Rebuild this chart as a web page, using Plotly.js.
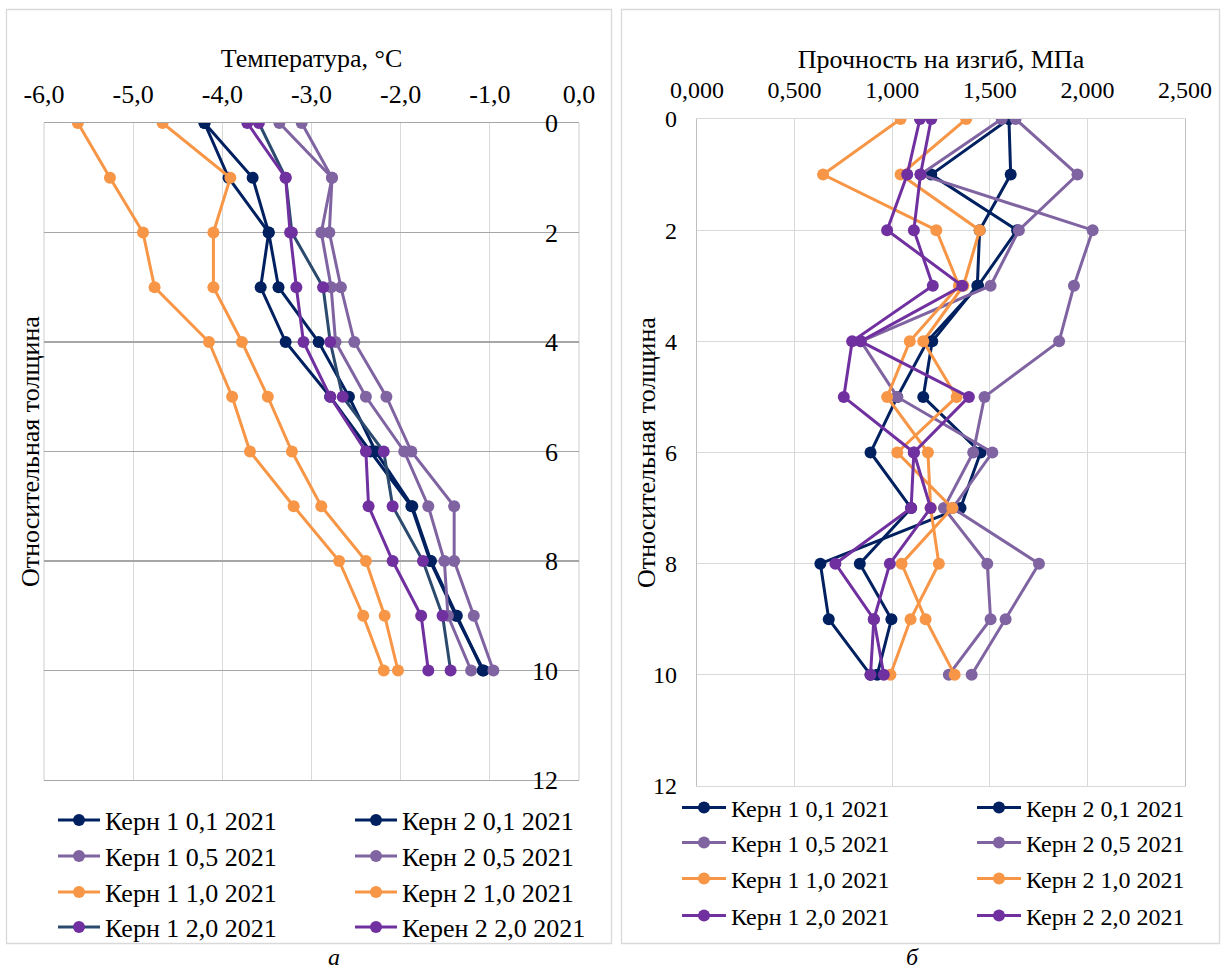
<!DOCTYPE html>
<html>
<head>
<meta charset="utf-8">
<script src="https://cdn.plot.ly/plotly-3.0.1.min.js"></script>
<style>html,body{margin:0;padding:0;background:#fff;}#chart{width:1225px;height:972px;}</style>
</head>
<body>
<div id="chart"></div>
<script>
// ---- data ----
const depth = [0, 1, 2, 3, 4, 5, 6, 7, 8, 9, 10];

const namesLeft  = ["Керн 1 0,1 2021", "Керн 2 0,1 2021", "Керн 1 0,5 2021", "Керн 2 0,5 2021",
                    "Керн 1 1,0 2021", "Керн 2 1,0 2021", "Керн 1 2,0 2021", "Керен 2 2,0 2021"];
const namesRight = ["Керн 1 0,1 2021", "Керн 2 0,1 2021", "Керн 1 0,5 2021", "Керн 2 0,5 2021",
                    "Керн 1 1,0 2021", "Керн 2 1,0 2021", "Керн 1 2,0 2021", "Керн 2 2,0 2021"];

// Temperature, °C (chart а)
const tK1_01 = [-4.20, -3.93, -3.48, -3.57, -3.29, -2.79, -2.34, -1.88, -1.67, -1.38, -1.07];
const tK2_01 = [-4.20, -3.66, -3.48, -3.37, -2.92, -2.58, -2.28, -1.87, -1.66, -1.37, -1.08];
const tK1_05 = [-3.36, -2.77, -2.89, -2.78, -2.73, -2.39, -1.96, -1.69, -1.51, -1.47, -1.21];
const tK2_05 = [-3.11, -2.77, -2.80, -2.67, -2.52, -2.16, -1.88, -1.40, -1.40, -1.18, -0.96];
const tK1_10 = [-5.62, -5.26, -4.89, -4.76, -4.15, -3.89, -3.69, -3.20, -2.69, -2.42, -2.19];
const tK2_10 = [-4.67, -3.91, -4.10, -4.10, -3.78, -3.49, -3.22, -2.89, -2.39, -2.18, -2.03];
const tK1_20 = [-3.59, -3.29, -3.22, -2.87, -2.79, -2.65, -2.19, -2.09, -1.75, -1.53, -1.44];
const tK2_20 = [-3.72, -3.29, -3.24, -3.17, -3.09, -2.79, -2.39, -2.36, -2.09, -1.77, -1.69];

// Flexural strength, MPa (chart б)
const sK1_01 = [1.598, 1.607, 1.448, 1.436, 1.205, 1.159, 1.453, 1.350, 0.632, 0.675, 0.889];
const sK2_01 = [1.598, 1.200, 1.640, 1.440, 1.180, 1.026, 0.889, 1.097, 0.834, 0.996, 0.923];
const sK1_05 = [1.561, 1.145, 2.027, 1.931, 1.855, 1.473, 1.415, 1.265, 1.487, 1.504, 1.290];
const sK2_05 = [1.632, 1.949, 1.649, 1.504, 0.840, 1.026, 1.513, 1.310, 1.752, 1.581, 1.407];
const sK1_10 = [1.043, 0.646, 1.226, 1.342, 1.090, 0.974, 1.183, 1.197, 1.239, 1.094, 0.991];
const sK2_10 = [1.379, 1.043, 1.448, 1.365, 1.159, 1.330, 1.026, 1.308, 1.048, 1.171, 1.320];
const sK1_20 = [1.142, 1.077, 0.974, 1.359, 0.838, 1.393, 1.111, 1.097, 0.709, 0.906, 0.889];
const sK2_20 = [1.200, 1.145, 1.111, 1.208, 0.795, 0.752, 1.111, 1.197, 0.988, 0.906, 0.957];

// tick labels
const tempTicks = [-6, -5, -4, -3, -2, -1, 0];
const tempTickText = ["-6,0", "-5,0", "-4,0", "-3,0", "-2,0", "-1,0", "0,0"];
const strTicks = [0, 0.5, 1, 1.5, 2, 2.5];
const strTickText = ["0,000", "0,500", "1,000", "1,500", "2,000", "2,500"];
const depthTicks = [0, 2, 4, 6, 8, 10, 12];
const depthTickText = ["0", "2", "4", "6", "8", "10", "12"];

const xTitleLeft = "Температура, °C";
const xTitleRight = "Прочность на изгиб, МПа";
const yTitle = "Относительная толщина";

// ---- styling ----
const NAVY = '#002060', LILAC = '#8064A2', ORANGE = '#F79646', PURPLE = '#7030A0', SLATE = '#2C4A6E';
const FONT = 'Liberation Serif, Times New Roman, serif';
const W = 1225, H = 972;
const fx = p => p / W;
const fy = p => 1 - p / H;

const leftSeries = [tK1_01, tK2_01, tK1_05, tK2_05, tK1_10, tK2_10, tK1_20, tK2_20];
const rightSeries = [sK1_01, sK2_01, sK1_05, sK2_05, sK1_10, sK2_10, sK1_20, sK2_20];
const leftLineColors  = [NAVY, NAVY, LILAC, LILAC, ORANGE, ORANGE, SLATE, PURPLE];
const rightLineColors = [NAVY, NAVY, LILAC, LILAC, ORANGE, ORANGE, PURPLE, PURPLE];
const markerColors    = [NAVY, NAVY, LILAC, LILAC, ORANGE, ORANGE, PURPLE, PURPLE];

const legendRowsLeft = [820, 856, 892, 927];
const legendRowsRight = [808, 843, 879, 916];

const data = [];
const legends = {};
function legId(k) { return k === 0 ? 'legend' : 'legend' + (k + 1); }

leftSeries.forEach((s, i) => {
  const id = legId(i);
  data.push({
    type: 'scatter', mode: 'lines+markers', x: s, y: depth, name: namesLeft[i],
    xaxis: 'x', yaxis: 'y', legend: id,
    line: {color: leftLineColors[i], width: 3},
    marker: {color: markerColors[i], size: 12}
  });
  legends[id] = {
    x: fx(i % 2 ? 350 : 53), y: fy(legendRowsLeft[Math.floor(i / 2)]),
    xanchor: 'left', yanchor: 'middle', orientation: 'v', itemwidth: 42,
    bgcolor: 'rgba(0,0,0,0)', font: {family: FONT, size: 26, color: '#000'}
  };
});
rightSeries.forEach((s, i) => {
  const id = legId(i + 8);
  data.push({
    type: 'scatter', mode: 'lines+markers', x: s, y: depth, name: namesRight[i],
    xaxis: 'x2', yaxis: 'y2', legend: id,
    line: {color: rightLineColors[i], width: 3},
    marker: {color: markerColors[i], size: 12}
  });
  legends[id] = {
    x: fx(i % 2 ? 972 : 677), y: fy(legendRowsRight[Math.floor(i / 2)]),
    xanchor: 'left', yanchor: 'middle', orientation: 'v', itemwidth: 44,
    bgcolor: 'rgba(0,0,0,0)', font: {family: FONT, size: 24, color: '#000'}
  };
});

const PL = {x0: 44, x1: 579, y0: 123, y1: 780};   // left plot box, px
const PR = {x0: 697, x1: 1185, y0: 119, y1: 786}; // right plot box, px

const layout = Object.assign({
  width: W, height: H,
  margin: {l: 0, r: 0, t: 0, b: 0},
  paper_bgcolor: '#fff', plot_bgcolor: '#fff',
  font: {family: FONT, color: '#000'},
  showlegend: true,
  xaxis: {
    domain: [fx(PL.x0), fx(PL.x1)], anchor: 'y', side: 'top',
    range: [-6, 0], tickmode: 'array', tickvals: tempTicks, ticktext: tempTickText,
    showgrid: true, gridcolor: '#D9D9D9', gridwidth: 1.3, zeroline: false,
    showline: true, mirror: true, linecolor: '#A6A6A6', linewidth: 1.3,
    ticks: '', tickfont: {family: FONT, size: 26, color: '#000'}, ticklabelstandoff: 8,
    title: {text: xTitleLeft, font: {family: FONT, size: 26, color: '#000'}, standoff: 5}
  },
  yaxis: {
    domain: [fy(PL.y1), fy(PL.y0)], anchor: 'free', position: fx(PL.x1), side: 'left',
    range: [12, 0], tickmode: 'array', tickvals: depthTicks, ticktext: depthTickText,
    showgrid: true, gridcolor: '#A6A6A6', gridwidth: 1.3, zeroline: false,
    showline: false, ticks: '', ticklabelstandoff: 21,
    tickfont: {family: FONT, size: 26, color: '#000'}
  },
  xaxis2: {
    domain: [fx(PR.x0), fx(PR.x1)], anchor: 'y2', side: 'top',
    range: [0, 2.5], tickmode: 'array', tickvals: strTicks, ticktext: strTickText,
    showgrid: true, gridcolor: '#D9D9D9', gridwidth: 1.3, zeroline: false,
    showline: true, mirror: true, linecolor: '#D9D9D9', linewidth: 1.3,
    ticks: '', tickfont: {family: FONT, size: 24, color: '#000'}, ticklabelstandoff: 10,
    title: {text: xTitleRight, font: {family: FONT, size: 26, color: '#000'}, standoff: 1}
  },
  yaxis2: {
    domain: [fy(PR.y1), fy(PR.y0)], anchor: 'x2', side: 'left',
    range: [12, 0], tickmode: 'array', tickvals: depthTicks, ticktext: depthTickText,
    showgrid: true, gridcolor: '#D9D9D9', gridwidth: 1.3, zeroline: false,
    showline: true, mirror: true, linecolor: '#BFBFBF', linewidth: 1.3,
    ticks: '', tickfont: {family: FONT, size: 24, color: '#000'}, ticklabelstandoff: 14
  },
  shapes: [
    {type: 'rect', xref: 'paper', yref: 'paper', x0: fx(6.5), x1: fx(611.5), y0: fy(943.5), y1: fy(9.5),
     line: {color: '#D9D9D9', width: 1.3}, fillcolor: 'rgba(0,0,0,0)', layer: 'below'},
    {type: 'rect', xref: 'paper', yref: 'paper', x0: fx(621.5), x1: fx(1219.5), y0: fy(943.5), y1: fy(9.5),
     line: {color: '#D9D9D9', width: 1.3}, fillcolor: 'rgba(0,0,0,0)', layer: 'below'},
    {type: 'line', xref: 'paper', yref: 'paper', x0: fx(PL.x0), x1: fx(PL.x0), y0: fy(PL.y1), y1: fy(PL.y0),
     line: {color: '#D9D9D9', width: 1.3}, layer: 'below'},
    {type: 'line', xref: 'paper', yref: 'paper', x0: fx(PL.x1), x1: fx(PL.x1), y0: fy(PL.y1), y1: fy(PL.y0),
     line: {color: '#D9D9D9', width: 1.3}, layer: 'below'}
  ],
  annotations: [
    {text: yTitle, xref: 'paper', yref: 'paper', x: fx(30), y: fy(452), textangle: -90,
     xanchor: 'center', yanchor: 'middle', showarrow: false,
     font: {family: FONT, size: 26, color: '#000'}},
    {text: yTitle, xref: 'paper', yref: 'paper', x: fx(646), y: fy(453), textangle: -90,
     xanchor: 'center', yanchor: 'middle', showarrow: false,
     font: {family: FONT, size: 26, color: '#000'}},
    {text: 'а', xref: 'paper', yref: 'paper', x: fx(334), y: 0, xanchor: 'center', yanchor: 'bottom',
     showarrow: false, font: {family: FONT, size: 24, color: '#000', style: 'italic'}},
    {text: 'б', xref: 'paper', yref: 'paper', x: fx(912), y: 0, xanchor: 'center', yanchor: 'bottom',
     showarrow: false, font: {family: FONT, size: 24, color: '#000', style: 'italic'}}
  ]
}, legends);

Plotly.newPlot('chart', data, layout, {displayModeBar: false, staticPlot: true});
</script>
</body>
</html>
